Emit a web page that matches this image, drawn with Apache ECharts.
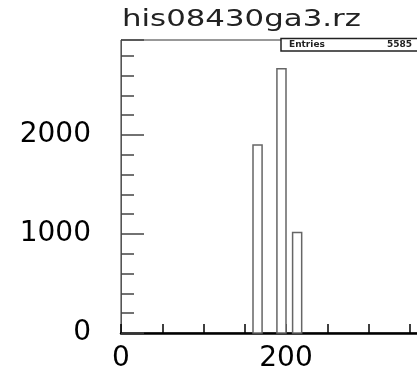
<!DOCTYPE html>
<html>
<head>
<meta charset="utf-8">
<script src="https://cdn.jsdelivr.net/npm/echarts@6/dist/echarts.min.js"></script>
<style>
html,body{margin:0;padding:0;background:#fff;}
#chart{width:417px;height:383px;}
</style>
</head>
<body>
<div id="chart"></div>
<script>
// ---- data ----
const titleText = 'his08430ga3.rz';
const binLow = [160, 189, 208];
const binHigh = [171, 200, 219];
const counts = [1900, 2670, 1015];
const entries = 5585;
const xMin = 0, xMax = 400;
const yMin = 0, yMax = 2960;

const barData = binLow.map((lo, i) => [lo, binHigh[i], counts[i]]);
const FONT = 'DejaVu Sans';

const chart = echarts.init(document.getElementById('chart'), null, {renderer: 'canvas'});
chart.setOption({
  animation: false,
  backgroundColor: '#fff',
  grid: {
    left: 121, top: 40, bottom: 50, right: -34,
    containLabel: false, outerBoundsMode: 'none',
    show: true, borderColor: '#333', borderWidth: 1, backgroundColor: 'transparent'
  },
  xAxis: {
    type: 'value', min: xMin, max: xMax, interval: 200,
    axisLine: {show: true, onZero: false, lineStyle: {color: '#000', width: 2.5}},
    axisTick: {show: true, inside: true, length: 9, lineStyle: {color: '#000', width: 1.5}},
    minorTick: {show: true, splitNumber: 4, length: 9, lineStyle: {color: '#000', width: 1.5}},
    axisLabel: {fontFamily: FONT, fontSize: 28, color: '#000', margin: 12, formatter: v => String(v)},
    splitLine: {show: false}
  },
  yAxis: {
    type: 'value', min: yMin, max: yMax, interval: 1000,
    axisLine: {show: true, onZero: false, lineStyle: {color: '#555', width: 1}},
    axisTick: {show: true, inside: true, length: 23, lineStyle: {color: '#444', width: 1.5}},
    minorTick: {show: true, splitNumber: 5, length: 13, lineStyle: {color: '#444', width: 1.5}},
    axisLabel: {fontFamily: FONT, fontSize: 28, color: '#000', margin: 30, showMaxLabel: false, formatter: v => String(v)},
    splitLine: {show: false}
  },
  series: [{
    type: 'custom',
    data: barData,
    encode: {x: [0, 1], y: 2},
    renderItem: function (params, api) {
      const p0 = api.coord([api.value(0), api.value(2)]);
      const p1 = api.coord([api.value(1), 0]);
      return {
        type: 'rect',
        shape: {x: p0[0], y: p0[1], width: p1[0] - p0[0], height: p1[1] - p0[1]},
        style: {fill: '#fff', stroke: '#666', lineWidth: 1.5}
      };
    }
  }],
  graphic: [
    {
      type: 'text', x: 122, y: 9, scaleX: 1.34, z: 10,
      style: {text: titleText, font: '23px "' + FONT + '"', fill: '#222', textVerticalAlign: 'top'}
    },
    {
      type: 'rect', z: 10,
      shape: {x: 281, y: 38.5, width: 170, height: 12.5},
      style: {fill: '#fff', stroke: '#222', lineWidth: 1.5}
    },
    {
      type: 'text', x: 289, y: 45, z: 11,
      style: {text: 'Entries', font: 'bold 9px "' + FONT + '"', fill: '#222', textVerticalAlign: 'middle'}
    },
    {
      type: 'text', x: 412, y: 45, z: 11,
      style: {text: String(entries), font: 'bold 9px "' + FONT + '"', fill: '#222', textAlign: 'right', textVerticalAlign: 'middle'}
    }
  ]
});
</script>
</body>
</html>
